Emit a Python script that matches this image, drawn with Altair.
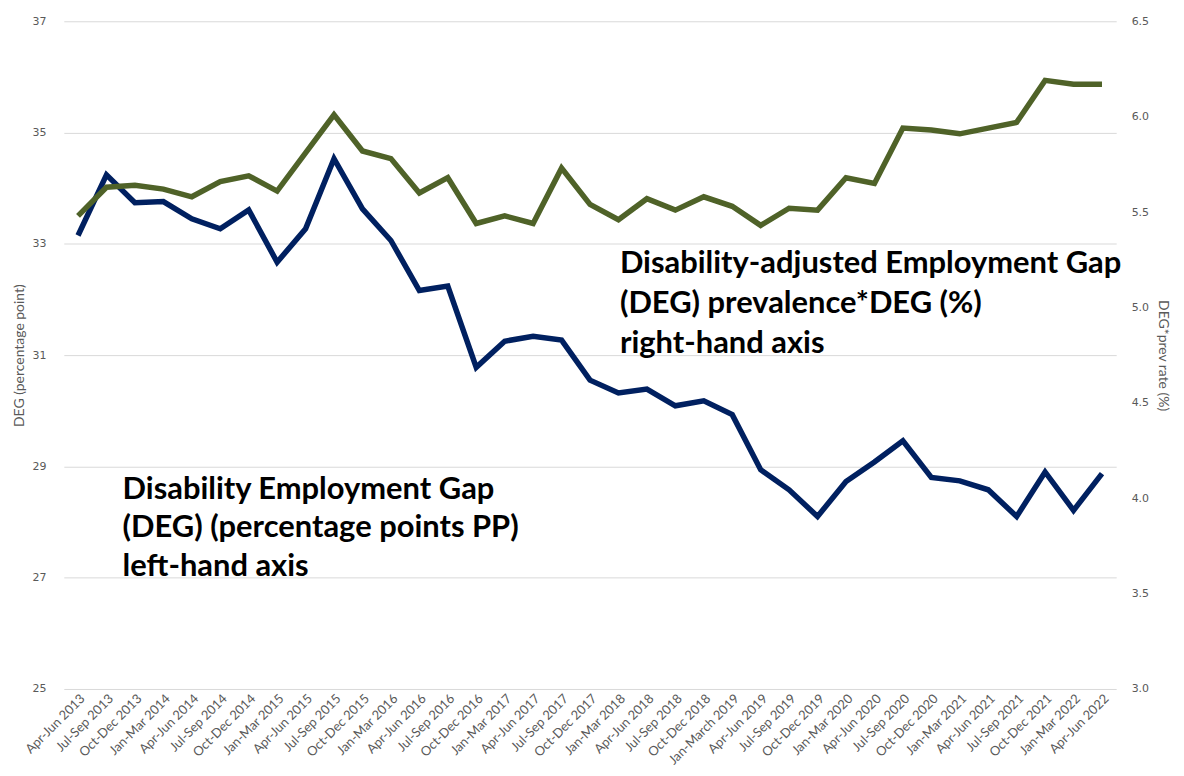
import altair as alt
import pandas as pd

quarters = [
    "Apr-Jun 2013", "Jul-Sep 2013", "Oct-Dec 2013", "Jan-Mar 2014", "Apr-Jun 2014",
    "Jul-Sep 2014", "Oct-Dec 2014", "Jan-Mar 2015", "Apr-Jun 2015", "Jul-Sep 2015",
    "Oct-Dec 2015", "Jan-Mar 2016", "Apr-Jun 2016", "Jul-Sep 2016", "Oct-Dec 2016",
    "Jan-Mar 2017", "Apr-Jun 2017", "Jul-Sep 2017", "Oct-Dec 2017", "Jan-Mar 2018",
    "Apr-Jun 2018", "Jul-Sep 2018", "Oct-Dec 2018", "Jan-March 2019", "Apr-Jun 2019",
    "Jul-Sep 2019", "Oct-Dec 2019", "Jan-Mar 2020", "Apr-Jun 2020", "Jul-Sep 2020",
    "Oct-Dec 2020", "Jan-Mar 2021", "Apr-Jun 2021", "Jul-Sep 2021", "Oct-Dec 2021",
    "Jan-Mar 2022", "Apr-Jun 2022",
]

deg = [
    33.15, 34.24, 33.74, 33.76, 33.45, 33.27, 33.61, 32.67, 33.27, 34.53,
    33.63, 33.06, 32.16, 32.24, 30.78, 31.25, 31.34, 31.27, 30.55, 30.32,
    30.39, 30.09, 30.18, 29.93, 28.94, 28.58, 28.10, 28.73, 29.08, 29.46,
    28.80, 28.74, 28.58, 28.10, 28.90, 28.21, 28.87,
]

deg_prev = [
    5.48, 5.63, 5.64, 5.62, 5.58, 5.66, 5.69, 5.61, 5.81, 6.01,
    5.82, 5.78, 5.60, 5.68, 5.44, 5.48, 5.44, 5.73, 5.54, 5.46,
    5.57, 5.51, 5.58, 5.53, 5.43, 5.52, 5.51, 5.68, 5.65, 5.94,
    5.93, 5.91, 5.94, 5.97, 6.19, 6.17, 6.17,
]

left_ticks = [25, 27, 29, 31, 33, 35, 37]
right_ticks = [3.0, 3.5, 4.0, 4.5, 5.0, 5.5, 6.0, 6.5]

df = pd.DataFrame({"quarter": quarters, "deg": deg, "deg_prev": deg_prev})

W, H = 1056, 670
GREY = "#595959"

xenc = alt.X(
    "quarter:N", sort=quarters, title=None,
    scale=alt.Scale(type="point", padding=0.5),
    axis=alt.Axis(labelAngle=-45, labelAlign="right", labelBaseline="top",
                  labelFont="Lato", labelFontSize=13, labelColor=GREY,
                  domain=False, ticks=False, grid=False, labelPadding=3,
                  labelOverlap=False),
)

blue = alt.Chart(df).mark_line(color="#002060", strokeWidth=5.5, strokeJoin="miter").encode(
    x=xenc,
    y=alt.Y("deg:Q", title="DEG (percentage point)",
            scale=alt.Scale(domain=[25, 37], nice=False, zero=False),
            axis=alt.Axis(values=left_ticks, format="d", grid=True, gridColor="#d9d9d9",
                          domain=False, ticks=False, labelFont="DejaVu Sans",
                          labelFontSize=11, labelColor=GREY, labelPadding=18,
                          titleFont="Lato", titleFontSize=14, titleFontWeight="normal",
                          titleColor=GREY, titlePadding=5)),
)

green = alt.Chart(df).mark_line(color="#4F6228", strokeWidth=5.5, strokeJoin="miter").encode(
    x=xenc,
    y=alt.Y("deg_prev:Q", title="DEG*prev rate (%)",
            scale=alt.Scale(domain=[3.0, 6.5], nice=False, zero=False),
            axis=alt.Axis(orient="right", values=right_ticks, format=".1f", grid=False,
                          domain=False, ticks=False, labelFont="DejaVu Sans",
                          labelFontSize=11, labelColor=GREY, labelPadding=15,
                          titleFont="Lato", titleFontSize=14, titleFontWeight="normal",
                          titleColor=GREY, titlePadding=7)),
)

ann_right = alt.Chart(pd.DataFrame({"t": ["Disability-adjusted Employment Gap\n(DEG) prevalence*DEG (%)\nright-hand axis"]})).mark_text(
    align="left", baseline="alphabetic", font="Lato", fontSize=31, fontWeight="bold",
    color="#000000", lineBreak="\n", lineHeight=40,
).encode(text="t:N", x=alt.value(558), y=alt.value(253))

ann_left = alt.Chart(pd.DataFrame({"t": ["Disability Employment Gap\n(DEG) (percentage points PP)\nleft-hand axis"]})).mark_text(
    align="left", baseline="alphabetic", font="Lato", fontSize=31, fontWeight="bold",
    color="#000000", lineBreak="\n", lineHeight=39,
).encode(text="t:N", x=alt.value(59), y=alt.value(479))

chart = alt.layer(blue, green, ann_right, ann_left).resolve_scale(y="independent").properties(
    width=W, height=H,
    autosize=alt.AutoSizeParams(type="none"),
    padding={"left": 56, "top": 12, "right": 60, "bottom": 84},
).configure_view(stroke=None)

chart.save("out.html", embed_options={"renderer": "svg", "actions": False})
